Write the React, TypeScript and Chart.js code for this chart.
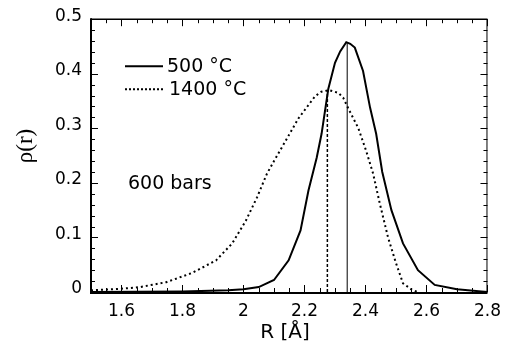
import React, { useEffect, useRef } from "react";
import { Chart, registerables } from "chart.js";

Chart.register(...registerables);

// 500 °C curve (solid)
const rSolid = [1.5, 1.8, 1.95, 2.0, 2.05, 2.1, 2.148, 2.187, 2.213, 2.24, 2.256, 2.278, 2.3, 2.317, 2.337, 2.35, 2.365, 2.392, 2.415, 2.435, 2.455, 2.485, 2.523, 2.572, 2.627, 2.7, 2.78, 2.8];
const rhoSolid = [0, 0.001, 0.003, 0.005, 0.009, 0.022, 0.058, 0.113, 0.186, 0.246, 0.29, 0.372, 0.42, 0.441, 0.458, 0.455, 0.448, 0.405, 0.338, 0.29, 0.22, 0.15, 0.089, 0.04, 0.013, 0.005, 0.001, 0];

// 1400 °C curve (dotted)
const rDotted = [1.5, 1.53, 1.6, 1.66, 1.747, 1.832, 1.91, 1.963, 2.008, 2.044, 2.077, 2.1, 2.138, 2.18, 2.235, 2.255, 2.28, 2.311, 2.327, 2.344, 2.376, 2.402, 2.425, 2.447, 2.474, 2.5, 2.523, 2.55, 2.57];
const rhoDotted = [0.003, 0.004, 0.006, 0.009, 0.018, 0.035, 0.058, 0.089, 0.131, 0.173, 0.217, 0.24, 0.277, 0.318, 0.359, 0.367, 0.37, 0.365, 0.356, 0.336, 0.301, 0.259, 0.217, 0.162, 0.1, 0.053, 0.016, 0.005, 0];

// peak-position markers
const peakR = [2.34, 2.275];
const peakRho = [0.458, 0.37];

const xTicks = [1.6, 1.8, 2.0, 2.2, 2.4, 2.6, 2.8];
const yTicks = [0, 0.1, 0.2, 0.3, 0.4, 0.5];
const legendLabels = ["500 °C", "1400 °C"];
const noteText = "600 bars";
const xTitle = "R [Å]";
const yTitle = "ρ(r)";

const SANS = "'DejaVu Sans', Verdana, sans-serif";

const decorPlugin = {
  id: "decor",
  afterDraw(chart: any) {
    const { ctx, chartArea: a, scales } = chart;
    const xs = scales.x;
    const ys = scales.y;
    ctx.save();
    ctx.strokeStyle = "#000";
    ctx.fillStyle = "#000";
    ctx.setLineDash([]);
    // ticks (inward, mirrored)
    ctx.lineWidth = 1;
    ctx.beginPath();
    for (let i = 0; i <= 26; i++) {
      const v = 1.5 + i * 0.05;
      const px = Math.round(xs.getPixelForValue(v)) + 0.5;
      const len = i % 4 === 2 ? 7 : 4;
      ctx.moveTo(px, a.bottom);
      ctx.lineTo(px, a.bottom - len);
      ctx.moveTo(px, a.top);
      ctx.lineTo(px, a.top + len);
    }
    for (let i = 0; i <= 25; i++) {
      const v = i * 0.02;
      const py = Math.round(ys.getPixelForValue(v)) + 0.5;
      const len = i % 5 === 0 ? 7 : 4;
      ctx.moveTo(a.left, py);
      ctx.lineTo(a.left + len, py);
      ctx.moveTo(a.right, py);
      ctx.lineTo(a.right - len, py);
    }
    ctx.stroke();
    // frame
    ctx.lineWidth = 2;
    ctx.beginPath();
    ctx.moveTo(a.left, a.top - 1);
    ctx.lineTo(a.left, a.bottom + 1);
    ctx.lineTo(a.right, a.bottom + 1);
    ctx.stroke();
    ctx.lineWidth = 1.5;
    ctx.beginPath();
    ctx.moveTo(a.left, a.top);
    ctx.lineTo(a.right, a.top);
    ctx.stroke();
    ctx.lineWidth = 1;
    ctx.beginPath();
    ctx.moveTo(a.right - 0.5, a.top);
    ctx.lineTo(a.right - 0.5, a.bottom);
    ctx.stroke();

    // legend
    const lx0 = a.left + 34;
    const lx1 = a.left + 72;
    const ly = [a.top + 47, a.top + 70];
    ctx.lineWidth = 2;
    ctx.beginPath();
    ctx.moveTo(lx0, ly[0]);
    ctx.lineTo(lx1, ly[0]);
    ctx.stroke();
    ctx.setLineDash([2, 2]);
    ctx.beginPath();
    ctx.moveTo(lx0, ly[1]);
    ctx.lineTo(lx1, ly[1]);
    ctx.stroke();
    ctx.setLineDash([]);
    ctx.font = "19px " + SANS;
    ctx.textAlign = "left";
    ctx.textBaseline = "middle";
    ctx.fillText(legendLabels[0], lx1 + 4, ly[0] + 1);
    ctx.fillText(legendLabels[1], lx1 + 6, ly[1] + 1);
    ctx.fillText(noteText, a.left + 37, a.top + 165);

    // axis titles
    ctx.font = "20px " + SANS;
    ctx.textAlign = "center";
    ctx.fillText(xTitle, 285, 333);
    ctx.save();
    ctx.translate(26, 146);
    ctx.rotate(-Math.PI / 2);
    ctx.font = "23px 'Liberation Serif', 'DejaVu Serif', serif";
    ctx.fillText(yTitle, 0, 0);
    ctx.restore();
    ctx.restore();
  },
};

function toPoints(xs: number[], ys: number[]) {
  return xs.map((x, i) => ({ x, y: ys[i] }));
}

export default function App() {
  const ref = useRef<HTMLCanvasElement | null>(null);
  useEffect(() => {
    if (!ref.current) return;
    const chart = new Chart(ref.current, {
      type: "scatter",
      data: {
        datasets: [
          {
            label: legendLabels[0],
            data: toPoints(rSolid, rhoSolid),
            showLine: true,
            borderColor: "#000",
            borderWidth: 2,
            pointRadius: 0,
            tension: 0,
          },
          {
            label: legendLabels[1],
            data: toPoints(rDotted, rhoDotted),
            showLine: true,
            borderColor: "#000",
            borderWidth: 2,
            borderDash: [2, 3],
            pointRadius: 0,
            tension: 0,
          },
          {
            label: "peak 500",
            data: [
              { x: peakR[0], y: 0 },
              { x: peakR[0], y: peakRho[0] },
            ],
            showLine: true,
            borderColor: "#000",
            borderWidth: 1,
            pointRadius: 0,
          },
          {
            label: "peak 1400",
            data: [
              { x: peakR[1], y: 0 },
              { x: peakR[1], y: peakRho[1] },
            ],
            showLine: true,
            borderColor: "#000",
            borderWidth: 1.5,
            borderDash: [3, 2],
            pointRadius: 0,
          },
        ],
      },
      options: {
        animation: false,
        responsive: false,
        maintainAspectRatio: false,
        layout: { padding: { top: 18, right: 20, bottom: 0, left: 0 } },
        plugins: { legend: { display: false }, tooltip: { enabled: false } },
        scales: {
          x: {
            type: "linear",
            min: 1.5,
            max: 2.8,
            grid: { display: false, drawTicks: false },
            border: { display: false },
            afterBuildTicks: (s: any) => {
              s.ticks = xTicks.map((v) => ({ value: v }));
            },
            afterFit: (s: any) => {
              s.height = 55;
            },
            ticks: {
              padding: 9,
              color: "#000",
              font: { family: SANS, size: 17 },
              callback: (v: any) => String(Math.round(Number(v) * 10) / 10),
              maxRotation: 0,
              autoSkip: false,
            },
          },
          y: {
            type: "linear",
            min: 0,
            max: 0.5,
            grid: { display: false, drawTicks: false },
            border: { display: false },
            afterBuildTicks: (s: any) => {
              s.ticks = yTicks.map((v) => ({ value: v }));
            },
            afterFit: (s: any) => {
              s.width = 91;
            },
            ticks: {
              padding: 9,
              color: "#000",
              labelOffset: -3,
              font: { family: SANS, size: 17 },
              callback: (v: any) => String(Math.round(Number(v) * 10) / 10),
            },
          },
        },
      },
      plugins: [decorPlugin],
    } as any);
    return () => chart.destroy();
  }, []);
  return (
    <div style={{ position: "absolute", left: 0, top: 0, width: 510, height: 347, background: "#fff" }}>
      <canvas ref={ref} width={510} height={347} style={{ width: 510, height: 347 }} />
    </div>
  );
}
